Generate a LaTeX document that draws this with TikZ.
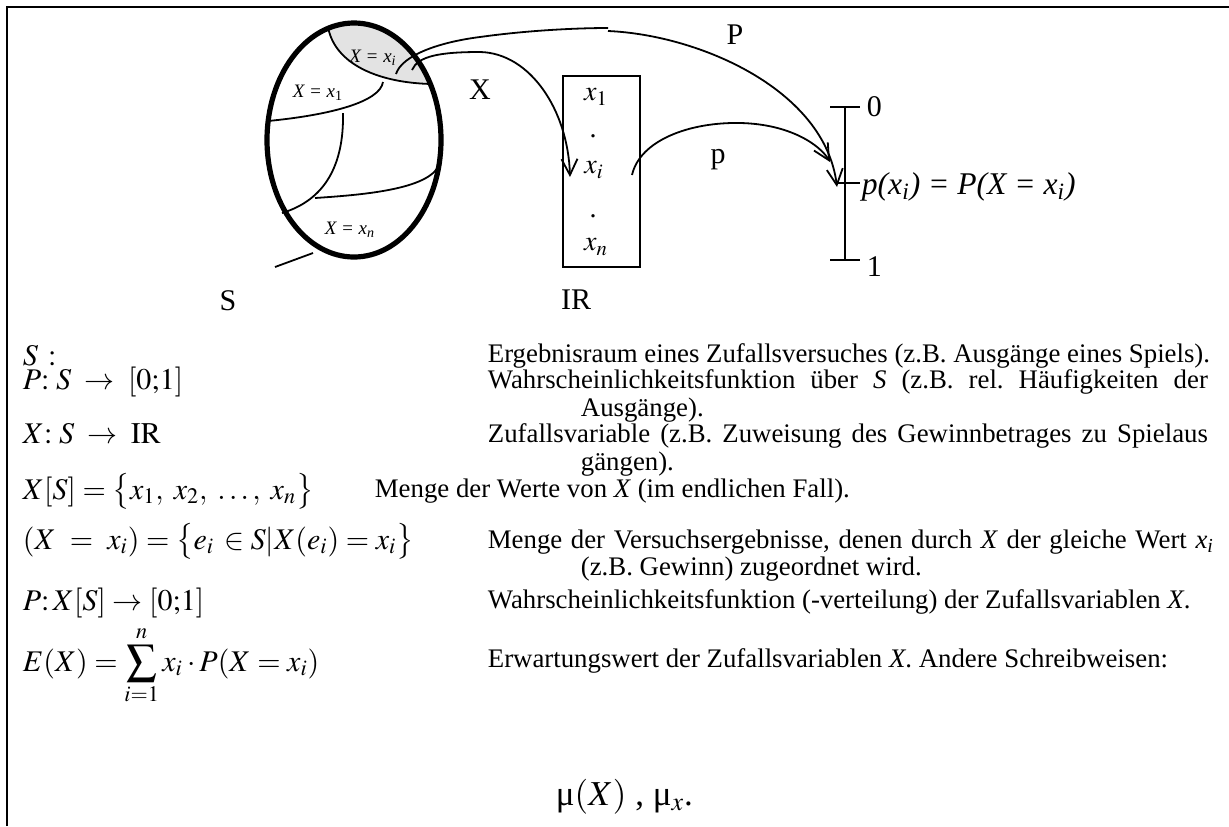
\documentclass[tikz,border=0pt]{standalone}
\usepackage{mathptmx}
\usepackage{fontspec}
\setmainfont{Liberation Serif}
\usetikzlibrary{arrows.meta}
\frenchspacing

\begin{document}
\begin{tikzpicture}[x=0.5pt,y=-0.5pt,>={Straight Barb[length=8pt,width=8pt]},
  line width=0.9pt,
  frameline/.style={line width=1.3pt},
  samplespace/.style={line width=2.6pt},
  maparrow/.style={->,line width=0.9pt},
  biglabel/.style={font=\fontsize{15}{18}\selectfont,inner sep=0pt},
  setlabel/.style={font=\fontsize{9.5}{11}\selectfont\itshape,inner sep=0pt},
  vallabel/.style={font=\fontsize{14}{16}\selectfont,inner sep=0pt},
  desc/.style={anchor=base west,inner sep=0pt,font=\fontsize{13.4}{15}\selectfont},
  formula/.style={anchor=base west,inner sep=0pt,font=\fontsize{15}{18}\selectfont}]
  \useasboundingbox (0,0) rectangle (1229,826);
  % frame, only top and left
  \draw[frameline] (7,826) -- (7,7) -- (1229,7);

  % sample space S with its parts
  \coordinate (sc) at (354,140);
  \begin{scope}
    \clip (sc) ellipse [x radius=87,y radius=117];
    \fill[gray!22] (328,27) .. controls (335,65) and (380,83) .. (432,84) -- (470,84) -- (470,0) -- (320,0) -- cycle;
  \end{scope}
  \draw (328,27) .. controls (335,65) and (380,83) .. (432,84);
  \draw (383,82) .. controls (380,102) and (330,115) .. (268,121);
  \draw (343,113) .. controls (344,165) and (325,200) .. (282,213);
  \draw (315,198) .. controls (360,195) and (425,190) .. (438,167);
  \draw[samplespace] (sc) ellipse [x radius=87,y radius=117];
  \node[setlabel] (lxi) at (373,58) {X = x\textsubscript{i}};
  \node[setlabel] (lx1) at (318,93) {X = x\textsubscript{\upshape 1}};
  \node[setlabel] (lxn) at (350,230) {X = x\textsubscript{n}};
  \node[biglabel] (slabel) at (228,301) {S};
  \coordinate (sfoot) at (275,267);
  \coordinate (stip) at (313,253);
  \draw (sfoot) -- (stip);

  % range of X
  \node[draw,minimum width=38.5pt,minimum height=95.5pt,inner sep=0pt] (range) at (601.5,171.5) {};
  \node[vallabel] (x1) at (596,97) {$x_1$};
  \node[vallabel] (dot1) at (593,136) {.};
  \node[vallabel] (xi) at (594,170) {$x_i$};
  \node[vallabel] (dot2) at (593,216) {.};
  \node[vallabel] (xn) at (596,247) {$x_n$};
  \node[biglabel] (rlabel) at (576,300) {IR};

  % scale [0;1]
  \coordinate (s0) at (845,107);
  \coordinate (sm) at (845,183);
  \coordinate (s1) at (845,260);
  \draw (s0) -- (s1);
  \draw (830,107) -- (860,107);
  \draw (835,183) -- (860,183);
  \draw (830,260) -- (860,260);
  \node[biglabel,anchor=west] (zero) at (866,107) {0};
  \node[biglabel,anchor=west] (one) at (866,267) {1};
  \node[biglabel,anchor=west,font=\fontsize{15.8}{18}\selectfont] (pval) at (861,187) {\itshape p(x\textsubscript{i}) = P(X = x\textsubscript{i})};

  % mappings
  \coordinate (xstart) at (412,70);
  \coordinate (pstart) at (396,74);
  \coordinate (pbend) at (608,28);
  \coordinate (ptip) at (837,187);
  \coordinate (xtip) at (570,177);
  \coordinate (qstart) at (632,175);
  \coordinate (qtip) at (830,162);
  \draw[maparrow] (xstart) .. controls (418,56) and (440,52) .. (480,52) .. controls (530,53) and (568,110) .. (xtip);
  \draw (pstart) .. controls (402,55) and (440,42) .. (480,37) .. controls (530,30) and (580,28) .. (pbend);
  \draw[maparrow] ([yshift=-1.5pt]pbend) .. controls (700,35) and (825,90) .. (ptip);
  \draw[maparrow] (qstart) .. controls (640,140) and (690,122) .. (740,123) .. controls (790,124) and (820,145) .. (qtip);
  \node[biglabel] (xlabel) at (480,90) {X};
  \node[biglabel] (plabel) at (735,35) {P};
  \node[biglabel] (qlabel) at (718,160) {p};

  % definitions
  \node[formula] (f1) at (22,365) {$S\,:$};
  \node[formula] (f2) at (22,389) {$P\colon\, S \;\to\; [0{;}1]$};
  \node[formula] (f3) at (22,443) {$X\colon\, S \;\to\; \mathrm{IR}$};
  \node[formula] (f4) at (22,499) {$X[S] = \bigl\{x_1,\;x_2,\;\ldots,\;x_n\bigr\}$};
  \node[formula] (f5) at (22,549) {$(X\ =\ x_i) = \bigl\{e_i\, \in S | X(e_i) = x_i\bigr\}$};
  \node[formula] (f6) at (22,610) {$P\colon X[S] \to [0{;}1]$};
  \node[formula] (f7) at (22,671) {$\displaystyle E(X) = \sum_{i=1}^{n} x_i \cdot P(X = x_i)$};
  \node[formula,font=\fontsize{17.5}{20}\selectfont] (f8) at (555,805) {μ$(X)$ , μ$_x$.};

  \node[desc] (d1) at (487,362) {Ergebnisraum eines Zufallsversuches (z.B. Ausgänge eines Spiels).};
  \node[desc] (d2) at (487,388) {\makebox[360pt][s]{Wahrscheinlichkeitsfunktion über \textit{S} (z.B. rel. Häufigkeiten der}};
  \node[desc] (d2b) at (580,416) {Ausgänge).};
  \node[desc] (d3) at (487,442) {\makebox[360pt][s]{Zufallsvariable (z.B. Zuweisung des Gewinnbetrages zu Spielaus}};
  \node[desc] (d3b) at (580,470) {gängen).};
  \node[desc] (d4) at (374,497) {Menge der Werte von \textit{X} (im endlichen Fall).};
  \node[desc] (d5) at (487,548) {\makebox[363pt][s]{Menge der Versuchsergebnisse, denen durch \textit{X} der gleiche Wert \textit{x}\textsubscript{\textit{i}}}};
  \node[desc] (d5b) at (580,575) {(z.B. Gewinn) zugeordnet wird.};
  \node[desc] (d6) at (487,608) {Wahrscheinlichkeitsfunktion (-verteilung) der Zufallsvariablen \textit{X}.};
  \node[desc] (d7) at (487,667) {Erwartungswert der Zufallsvariablen \textit{X}. Andere Schreibweisen:};
\end{tikzpicture}
\end{document}
